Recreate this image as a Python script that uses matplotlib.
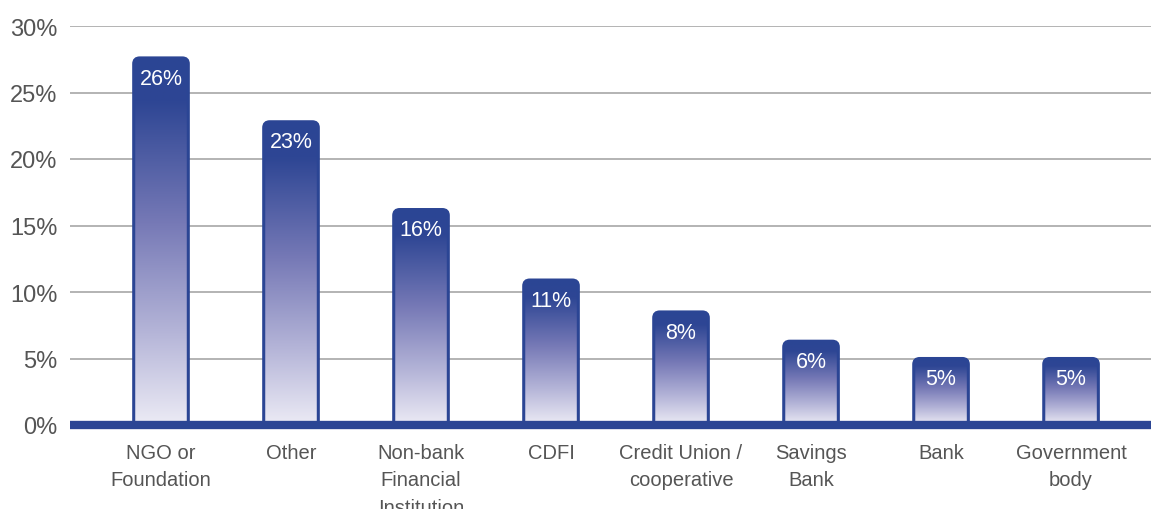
import matplotlib
matplotlib.use("Agg")
import matplotlib.pyplot as plt
import numpy as np
from matplotlib.path import Path
from matplotlib.patches import PathPatch
from matplotlib.colors import LinearSegmentedColormap

categories = ["NGO or\nFoundation", "Other", "Non-bank\nFinancial\nInstitution", "CDFI",
              "Credit Union /\ncooperative", "Savings\nBank", "Bank", "Government\nbody"]
bar_heights = [27.6, 22.8, 16.2, 10.9, 8.5, 6.3, 5.0, 5.0]
value_labels = ["26%", "23%", "16%", "11%", "8%", "6%", "5%", "5%"]
y_ticks = [0, 5, 10, 15, 20, 25, 30]
y_tick_labels = ["0%", "5%", "10%", "15%", "20%", "25%", "30%"]

plt.rcParams['font.family'] = ['Liberation Sans', 'DejaVu Sans']

W, H = 1151, 510
fig = plt.figure(figsize=(W / 100, H / 100), dpi=100)
left_px, right_px, top_px, bot_px = 70, 1151, 27, 426
ax = fig.add_axes([left_px / W, 1 - bot_px / H, (right_px - left_px) / W, (bot_px - top_px) / H])

dark = "#2b4594"
cmap = LinearSegmentedColormap.from_list(
    "g", [(0.0, "#2b4594"), (0.12, "#2e4694"), (0.45, "#7679b6"), (0.75, "#b5b5d8"), (1.0, "#ecebf5")])

x = np.arange(len(categories))
xmin, xmax = -0.7, 7.615
ax.set_xlim(xmin, xmax)
ax.set_ylim(0, 30)
bw = 0.42

px_per_x = (right_px - left_px) / (xmax - xmin)
px_per_y = (bot_px - top_px) / 30.0
r_px = 6
rx = r_px / px_per_x
ry = r_px / px_per_y

bars = ax.bar(x, bar_heights, width=bw, color="none", edgecolor="none")
grad = np.linspace(0, 1, 256).reshape(-1, 1)
for b, lab in zip(bars, value_labels):
    x0 = b.get_x()
    x1 = x0 + b.get_width()
    h = b.get_height()
    verts = [(x0, 0), (x0, h - ry), (x0, h), (x0 + rx, h), (x1 - rx, h), (x1, h), (x1, h - ry),
             (x1, 0), (x0, 0)]
    codes = [Path.MOVETO, Path.LINETO, Path.CURVE3, Path.CURVE3, Path.LINETO, Path.CURVE3,
             Path.CURVE3, Path.LINETO, Path.CLOSEPOLY]
    path = Path(verts, codes)
    im = ax.imshow(grad, cmap=cmap, aspect="auto", extent=(x0, x1, 0, h), origin="upper",
                   zorder=2, interpolation="bilinear")
    patch = PathPatch(path, facecolor="none", edgecolor=dark, lw=2.2, zorder=3)
    ax.add_patch(patch)
    im.set_clip_path(patch)
    ax.annotate(lab, (b.get_x() + b.get_width() / 2, h), xytext=(0, -14.5), textcoords="offset points",
                ha="center", va="center", color="white", fontsize=15.5, zorder=4)

ax.set_xlim(xmin, xmax)
ax.set_ylim(0, 30)

for yv in y_ticks[1:]:
    ax.axhline(yv, color="#b3b3b3", lw=1.4, zorder=1)
ax.axhline(0, color=dark, lw=6, zorder=5, clip_on=False, solid_capstyle="butt")

ax.set_yticks(y_ticks)
ax.set_yticklabels(y_tick_labels, fontsize=17, color="#555555")
ax.set_xticks(x)
ax.set_xticklabels(categories, fontsize=14.5, color="#555555", va="top")
for lbl in ax.get_xticklabels():
    lbl.set_linespacing(1.55)
ax.tick_params(axis="both", length=0)
ax.tick_params(axis="x", pad=13)
ax.tick_params(axis="y", pad=9)
for s in ax.spines.values():
    s.set_visible(False)

fig.savefig("out.png", dpi=100, facecolor="white")
